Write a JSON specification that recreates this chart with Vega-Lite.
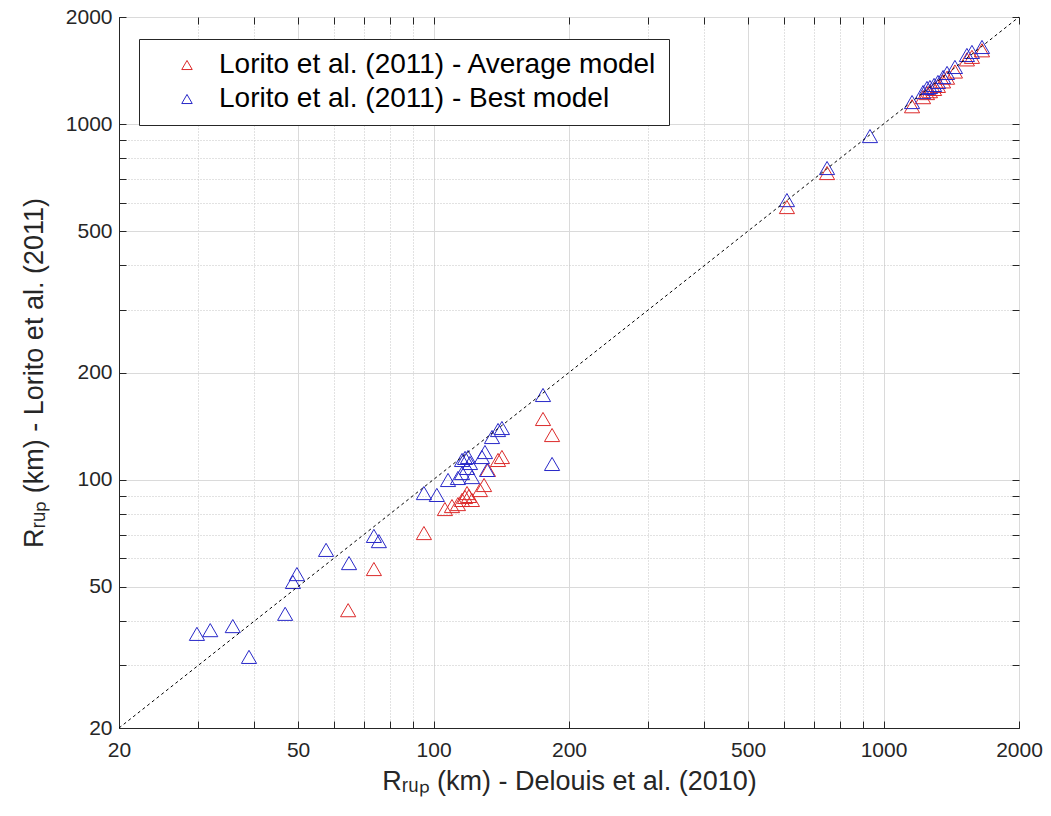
{
  "$schema": "https://vega.github.io/schema/vega-lite/v6.json",
  "width": 900,
  "height": 711,
  "autosize": "none",
  "padding": {"left": 119, "top": 17, "right": 32, "bottom": 88},
  "background": "white",
  "config": {
    "view": {"stroke": "#262626", "strokeWidth": 1},
    "font": "Liberation Sans"
  },
  "layer": [
    {
      "data": {
        "values": [
          {"model": "Lorito et al. (2011) - Average model", "delouis": 64.6, "lorito": 42.9},
          {"model": "Lorito et al. (2011) - Average model", "delouis": 73.7, "lorito": 56.0},
          {"model": "Lorito et al. (2011) - Average model", "delouis": 95.2, "lorito": 70.7},
          {"model": "Lorito et al. (2011) - Average model", "delouis": 106.0, "lorito": 82.6},
          {"model": "Lorito et al. (2011) - Average model", "delouis": 109.9, "lorito": 84.2},
          {"model": "Lorito et al. (2011) - Average model", "delouis": 113.3, "lorito": 85.3},
          {"model": "Lorito et al. (2011) - Average model", "delouis": 115.7, "lorito": 87.6},
          {"model": "Lorito et al. (2011) - Average model", "delouis": 117.5, "lorito": 89.3},
          {"model": "Lorito et al. (2011) - Average model", "delouis": 118.7, "lorito": 91.6},
          {"model": "Lorito et al. (2011) - Average model", "delouis": 119.9, "lorito": 89.9},
          {"model": "Lorito et al. (2011) - Average model", "delouis": 121.7, "lorito": 87.6},
          {"model": "Lorito et al. (2011) - Average model", "delouis": 126.8, "lorito": 93.4},
          {"model": "Lorito et al. (2011) - Average model", "delouis": 129.5, "lorito": 96.5},
          {"model": "Lorito et al. (2011) - Average model", "delouis": 132.1, "lorito": 106.4},
          {"model": "Lorito et al. (2011) - Average model", "delouis": 139.1, "lorito": 113.5},
          {"model": "Lorito et al. (2011) - Average model", "delouis": 141.9, "lorito": 115.7},
          {"model": "Lorito et al. (2011) - Average model", "delouis": 175.1, "lorito": 148.0},
          {"model": "Lorito et al. (2011) - Average model", "delouis": 183.4, "lorito": 133.4},
          {"model": "Lorito et al. (2011) - Average model", "delouis": 610, "lorito": 584},
          {"model": "Lorito et al. (2011) - Average model", "delouis": 749, "lorito": 728},
          {"model": "Lorito et al. (2011) - Average model", "delouis": 1157, "lorito": 1122},
          {"model": "Lorito et al. (2011) - Average model", "delouis": 1224, "lorito": 1190},
          {"model": "Lorito et al. (2011) - Average model", "delouis": 1249, "lorito": 1222},
          {"model": "Lorito et al. (2011) - Average model", "delouis": 1268, "lorito": 1237},
          {"model": "Lorito et al. (2011) - Average model", "delouis": 1295, "lorito": 1255},
          {"model": "Lorito et al. (2011) - Average model", "delouis": 1321, "lorito": 1280},
          {"model": "Lorito et al. (2011) - Average model", "delouis": 1356, "lorito": 1318},
          {"model": "Lorito et al. (2011) - Average model", "delouis": 1384, "lorito": 1350},
          {"model": "Lorito et al. (2011) - Average model", "delouis": 1441, "lorito": 1405},
          {"model": "Lorito et al. (2011) - Average model", "delouis": 1532, "lorito": 1520},
          {"model": "Lorito et al. (2011) - Average model", "delouis": 1572, "lorito": 1545},
          {"model": "Lorito et al. (2011) - Average model", "delouis": 1655, "lorito": 1612},
          {"model": "Lorito et al. (2011) - Best model", "delouis": 29.8, "lorito": 36.8},
          {"model": "Lorito et al. (2011) - Best model", "delouis": 31.9, "lorito": 37.7},
          {"model": "Lorito et al. (2011) - Best model", "delouis": 35.8, "lorito": 38.7},
          {"model": "Lorito et al. (2011) - Best model", "delouis": 38.9, "lorito": 31.7},
          {"model": "Lorito et al. (2011) - Best model", "delouis": 46.8, "lorito": 41.9},
          {"model": "Lorito et al. (2011) - Best model", "delouis": 48.7, "lorito": 51.5},
          {"model": "Lorito et al. (2011) - Best model", "delouis": 49.7, "lorito": 54.2},
          {"model": "Lorito et al. (2011) - Best model", "delouis": 57.7, "lorito": 63.4},
          {"model": "Lorito et al. (2011) - Best model", "delouis": 64.9, "lorito": 58.2},
          {"model": "Lorito et al. (2011) - Best model", "delouis": 73.7, "lorito": 69.4},
          {"model": "Lorito et al. (2011) - Best model", "delouis": 75.6, "lorito": 67.1},
          {"model": "Lorito et al. (2011) - Best model", "delouis": 95.2, "lorito": 91.6},
          {"model": "Lorito et al. (2011) - Best model", "delouis": 101.7, "lorito": 90.5},
          {"model": "Lorito et al. (2011) - Best model", "delouis": 107.7, "lorito": 99.7},
          {"model": "Lorito et al. (2011) - Best model", "delouis": 113.3, "lorito": 101.0},
          {"model": "Lorito et al. (2011) - Best model", "delouis": 115.7, "lorito": 104.3},
          {"model": "Lorito et al. (2011) - Best model", "delouis": 118.7, "lorito": 107.8},
          {"model": "Lorito et al. (2011) - Best model", "delouis": 115.7, "lorito": 113.5},
          {"model": "Lorito et al. (2011) - Best model", "delouis": 117.5, "lorito": 115.0},
          {"model": "Lorito et al. (2011) - Best model", "delouis": 119.3, "lorito": 115.7},
          {"model": "Lorito et al. (2011) - Best model", "delouis": 120.5, "lorito": 111.3},
          {"model": "Lorito et al. (2011) - Best model", "delouis": 121.7, "lorito": 101.6},
          {"model": "Lorito et al. (2011) - Best model", "delouis": 128.1, "lorito": 115.7},
          {"model": "Lorito et al. (2011) - Best model", "delouis": 130.1, "lorito": 119.5},
          {"model": "Lorito et al. (2011) - Best model", "delouis": 131.5, "lorito": 106.4},
          {"model": "Lorito et al. (2011) - Best model", "delouis": 134.9, "lorito": 131.7},
          {"model": "Lorito et al. (2011) - Best model", "delouis": 139.1, "lorito": 137.8},
          {"model": "Lorito et al. (2011) - Best model", "delouis": 141.9, "lorito": 139.6},
          {"model": "Lorito et al. (2011) - Best model", "delouis": 175.1, "lorito": 172.9},
          {"model": "Lorito et al. (2011) - Best model", "delouis": 183.4, "lorito": 110.6},
          {"model": "Lorito et al. (2011) - Best model", "delouis": 610, "lorito": 611},
          {"model": "Lorito et al. (2011) - Best model", "delouis": 749, "lorito": 752},
          {"model": "Lorito et al. (2011) - Best model", "delouis": 933, "lorito": 925},
          {"model": "Lorito et al. (2011) - Best model", "delouis": 1157, "lorito": 1153},
          {"model": "Lorito et al. (2011) - Best model", "delouis": 1224, "lorito": 1230},
          {"model": "Lorito et al. (2011) - Best model", "delouis": 1249, "lorito": 1263},
          {"model": "Lorito et al. (2011) - Best model", "delouis": 1268, "lorito": 1271},
          {"model": "Lorito et al. (2011) - Best model", "delouis": 1295, "lorito": 1288},
          {"model": "Lorito et al. (2011) - Best model", "delouis": 1321, "lorito": 1313},
          {"model": "Lorito et al. (2011) - Best model", "delouis": 1356, "lorito": 1356},
          {"model": "Lorito et al. (2011) - Best model", "delouis": 1384, "lorito": 1392},
          {"model": "Lorito et al. (2011) - Best model", "delouis": 1441, "lorito": 1447},
          {"model": "Lorito et al. (2011) - Best model", "delouis": 1532, "lorito": 1564},
          {"model": "Lorito et al. (2011) - Best model", "delouis": 1572, "lorito": 1595},
          {"model": "Lorito et al. (2011) - Best model", "delouis": 1655, "lorito": 1647}
        ]
      },
      "mark": {"type": "point", "shape": "triangle-up", "filled": false, "size": 230, "strokeWidth": 1, "opacity": 1},
      "encoding": {
        "x": {
          "field": "delouis", "type": "quantitative",
          "scale": {"type": "log", "domain": [20, 2000], "nice": false},
          "axis": {
            "orient": "bottom",
            "values": [20, 30, 40, 50, 60, 70, 80, 90, 100, 200, 300, 400, 500, 600, 700, 800, 900, 1000, 2000],
            "labelExpr": "indexof([20,50,100,200,500,1000,2000], datum.value) >= 0 ? format(datum.value, 'd') : ''",
            "labelOverlap": false,
            "labelFlush": false,
            "labelFontSize": 21,
            "labelColor": "#262626",
            "labelPadding": 18,
            "tickSize": -7,
            "tickColor": "#262626",
            "domainColor": "#262626",
            "grid": true,
            "gridColor": {"condition": {"test": "indexof([20,50,100,200,500,1000,2000], datum.value) >= 0", "value": "#dadada"}, "value": "#c4c4c4"},
            "gridDash": {"condition": {"test": "indexof([20,50,100,200,500,1000,2000], datum.value) >= 0", "value": []}, "value": [1, 2]},
            "title": "Rᵣᵤₚ (km) - Delouis et al. (2010)",
            "titleFontSize": 27,
            "titleFontWeight": "normal",
            "titleColor": "#262626",
            "titlePadding": 8
          }
        },
        "y": {
          "field": "lorito", "type": "quantitative",
          "scale": {"type": "log", "domain": [20, 2000], "nice": false},
          "axis": {
            "orient": "left",
            "values": [20, 30, 40, 50, 60, 70, 80, 90, 100, 200, 300, 400, 500, 600, 700, 800, 900, 1000, 2000],
            "labelExpr": "indexof([20,50,100,200,500,1000,2000], datum.value) >= 0 ? format(datum.value, 'd') : ''",
            "labelOverlap": false,
            "labelFlush": false,
            "labelFontSize": 21,
            "labelColor": "#262626",
            "labelPadding": 14,
            "tickSize": -7,
            "tickColor": "#262626",
            "domainColor": "#262626",
            "grid": true,
            "gridColor": {"condition": {"test": "indexof([20,50,100,200,500,1000,2000], datum.value) >= 0", "value": "#dadada"}, "value": "#c4c4c4"},
            "gridDash": {"condition": {"test": "indexof([20,50,100,200,500,1000,2000], datum.value) >= 0", "value": []}, "value": [1, 2]},
            "title": "Rᵣᵤₚ (km) - Lorito et al. (2011)",
            "titleFontSize": 27,
            "titleFontWeight": "normal",
            "titleColor": "#262626",
            "titlePadding": 17
          }
        },
        "color": {
          "field": "model", "type": "nominal",
          "scale": {"domain": ["Lorito et al. (2011) - Average model", "Lorito et al. (2011) - Best model"], "range": ["#dc2a2a", "#2828c8"]},
          "legend": {
            "orient": "none",
            "legendX": 20,
            "legendY": 22,
            "title": null,
            "symbolType": "triangle-up",
            "symbolSize": 110,
            "symbolStrokeWidth": 1,
            "symbolFillColor": "transparent",
            "symbolOffset": 22,
            "labelFontSize": 28,
            "labelColor": "#000000",
            "labelOffset": 18,
            "rowPadding": 6,
            "padding": 12,
            "strokeColor": "#262626",
            "fillColor": "white",
            "labelLimit": 800
          }
        }
      }
    },
    {
      "data": {"values": [{"delouis": 20, "lorito": 20}, {"delouis": 2000, "lorito": 2000}]},
      "mark": {"type": "line", "color": "#000000", "strokeDash": [3, 3], "strokeWidth": 1},
      "encoding": {
        "x": {
          "field": "delouis", "type": "quantitative",
          "axis": {
            "orient": "top",
            "values": [20, 30, 40, 50, 60, 70, 80, 90, 100, 200, 300, 400, 500, 600, 700, 800, 900, 1000, 2000],
            "labels": false, "grid": false, "domain": false,
            "tickSize": -7, "tickColor": "#262626", "title": null
          }
        },
        "y": {
          "field": "lorito", "type": "quantitative",
          "axis": {
            "orient": "right",
            "values": [20, 30, 40, 50, 60, 70, 80, 90, 100, 200, 300, 400, 500, 600, 700, 800, 900, 1000, 2000],
            "labels": false, "grid": false, "domain": false,
            "tickSize": -7, "tickColor": "#262626", "title": null
          }
        }
      }
    }
  ]
}
